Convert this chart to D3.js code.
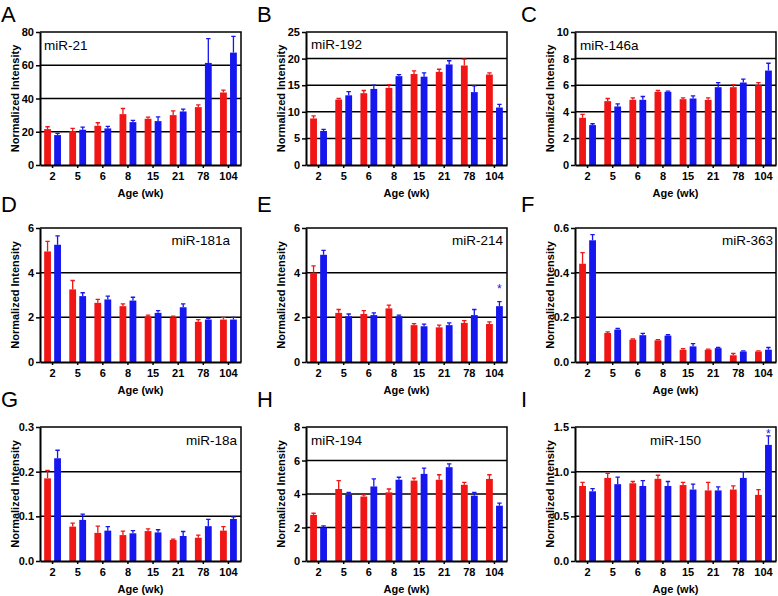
<!DOCTYPE html>
<html>
<head>
<meta charset="utf-8">
<script src="https://cdn.jsdelivr.net/npm/d3@7"></script>
<style>
  html, body { margin: 0; padding: 0; background: #ffffff; }
  svg { display: block; font-family: "Liberation Sans", Arial, sans-serif; }
</style>
</head>
<body>
<script>
// ---------------- DATA ----------------
const ages = ["2", "5", "6", "8", "15", "21", "78", "104"];
const groups = ["red", "blue"];

const panelLetters = ["A", "B", "C", "D", "E", "F", "G", "H", "I"];
const mirNames = ["miR-21", "miR-192", "miR-146a", "miR-181a", "miR-214", "miR-363", "miR-18a", "miR-194", "miR-150"];
const yMaxes = [80, 25, 10, 6, 6, 0.6, 0.3, 8, 1.5];
const yStepsArr = [20, 5, 2, 2, 2, 0.2, 0.1, 2, 0.5];
const yDecimals = [0, 0, 0, 0, 0, 1, 1, 0, 1];

const miR21Red = [21.6, 20.4, 23.6, 30.6, 27.8, 30.0, 34.8, 43.6];
const miR21RedSE = [1.4, 1.6, 1.8, 3.4, 1.0, 2.6, 1.4, 1.4];
const miR21Blue = [18.0, 21.2, 22.0, 25.8, 26.4, 32.2, 61.4, 67.6];
const miR21BlueSE = [1.0, 1.6, 1.2, 1.0, 2.6, 1.4, 14.6, 9.8];

const miR192Red = [8.75, 12.3, 13.5, 14.5, 17.1, 17.5, 18.7, 17.0];
const miR192RedSE = [0.5, 0.2, 0.5, 0.6, 0.6, 0.5, 1.2, 0.3];
const miR192Blue = [6.4, 13.1, 14.3, 16.7, 16.6, 18.9, 13.7, 10.8];
const miR192BlueSE = [0.3, 0.7, 0.7, 0.3, 0.7, 0.7, 1.2, 0.6];

const miR146aRed = [3.55, 4.8, 4.9, 5.5, 4.95, 4.9, 5.85, 6.0];
const miR146aRedSE = [0.25, 0.2, 0.15, 0.1, 0.1, 0.15, 0.2, 0.2];
const miR146aBlue = [3.0, 4.4, 4.9, 5.5, 5.0, 5.85, 6.2, 7.1];
const miR146aBlueSE = [0.1, 0.2, 0.25, 0.05, 0.2, 0.35, 0.25, 0.55];

const miR181aRed = [4.95, 3.25, 2.65, 2.5, 2.05, 2.0, 1.8, 1.9];
const miR181aRedSE = [0.45, 0.4, 0.15, 0.1, 0.05, 0.05, 0.1, 0.1];
const miR181aBlue = [5.25, 2.95, 2.8, 2.75, 2.2, 2.45, 1.9, 1.9];
const miR181aBlueSE = [0.4, 0.15, 0.15, 0.15, 0.1, 0.15, 0.05, 0.1];

const miR214Red = [4.0, 2.2, 2.15, 2.4, 1.65, 1.55, 1.75, 1.7];
const miR214RedSE = [0.3, 0.15, 0.15, 0.15, 0.07, 0.1, 0.1, 0.1];
const miR214Blue = [4.8, 2.05, 2.1, 2.05, 1.6, 1.65, 2.1, 2.5];
const miR214BlueSE = [0.2, 0.1, 0.1, 0.05, 0.1, 0.1, 0.25, 0.2];

const miR363Red = [0.44, 0.13, 0.10, 0.097, 0.055, 0.055, 0.03, 0.047];
const miR363RedSE = [0.05, 0.005, 0.003, 0.003, 0.005, 0.003, 0.008, 0.003];
const miR363Blue = [0.545, 0.145, 0.12, 0.118, 0.07, 0.062, 0.047, 0.055];
const miR363BlueSE = [0.025, 0.005, 0.008, 0.004, 0.012, 0.003, 0.003, 0.01];

const miR18aRed = [0.185, 0.077, 0.063, 0.058, 0.067, 0.047, 0.052, 0.068];
const miR18aRedSE = [0.018, 0.008, 0.015, 0.009, 0.005, 0.002, 0.006, 0.009];
const miR18aBlue = [0.23, 0.092, 0.068, 0.062, 0.064, 0.056, 0.078, 0.094];
const miR18aBlueSE = [0.018, 0.013, 0.009, 0.006, 0.006, 0.01, 0.015, 0.005];

const miR194Red = [2.75, 4.3, 3.85, 4.1, 4.8, 4.85, 4.55, 4.9];
const miR194RedSE = [0.1, 0.5, 0.1, 0.2, 0.15, 0.3, 0.15, 0.25];
const miR194Blue = [2.0, 3.95, 4.45, 4.85, 5.2, 5.6, 3.9, 3.3];
const miR194BlueSE = [0.1, 0.15, 0.45, 0.15, 0.35, 0.2, 0.2, 0.15];

const miR150Red = [0.84, 0.93, 0.87, 0.92, 0.85, 0.79, 0.80, 0.74];
const miR150RedSE = [0.04, 0.05, 0.02, 0.04, 0.03, 0.09, 0.04, 0.06];
const miR150Blue = [0.78, 0.86, 0.84, 0.84, 0.80, 0.79, 0.93, 1.30];
const miR150BlueSE = [0.03, 0.08, 0.06, 0.05, 0.06, 0.04, 0.07, 0.10];

// significance marks: panel index, age, series, y value of the star
const starPanels = [4, 8];
const starAges = ["104", "104"];
const starY = [3.4, 1.46];

const redSeries = [miR21Red, miR192Red, miR146aRed, miR181aRed, miR214Red, miR363Red, miR18aRed, miR194Red, miR150Red];
const redSE = [miR21RedSE, miR192RedSE, miR146aRedSE, miR181aRedSE, miR214RedSE, miR363RedSE, miR18aRedSE, miR194RedSE, miR150RedSE];
const blueSeries = [miR21Blue, miR192Blue, miR146aBlue, miR181aBlue, miR214Blue, miR363Blue, miR18aBlue, miR194Blue, miR150Blue];
const blueSE = [miR21BlueSE, miR192BlueSE, miR146aBlueSE, miR181aBlueSE, miR214BlueSE, miR363BlueSE, miR18aBlueSE, miR194BlueSE, miR150BlueSE];

// ---------------- LAYOUT ----------------
const W = 778, H = 596;
const colLeft = [40, 306, 575];
const colRight = [241, 507, 776];
const rowTop = [32, 228, 427];
const rowBottom = [165, 362, 561];
const letterX = [1, 257, 521];
const letterBase = [22, 211.5, 407];
// label placement per panel: anchor & offset
const labelAnchor = ["start", "start", "start", "end", "end", "end", "end", "start", "middle"];
const labelDX = [4, 5, 5, -11, -4, -3, -4, 5, 0];
const labelDY = [18, 17, 18, 17, 17, 17, 18, 18, 18];

const colors = { red: "#f01616", blue: "#1616ee" };
const FONT = '"Liberation Sans", Arial, sans-serif';

const svg = d3.select("body").append("svg")
  .attr("width", W).attr("height", H)
  .attr("viewBox", `0 0 ${W} ${H}`);

svg.append("rect").attr("width", W).attr("height", H).attr("fill", "#fff");

panelLetters.forEach((letter, i) => {
  const c = i % 3, r = Math.floor(i / 3);
  const L = colLeft[c], R = colRight[c], T = rowTop[r], B = rowBottom[r];
  const g = svg.append("g");

  const x0 = d3.scaleBand().domain(ages).range([L, R]).paddingInner(0).paddingOuter(0);
  const x1 = d3.scaleBand().domain(groups).range([0, x0.bandwidth()])
    .paddingInner(0.32).paddingOuter(0.415);
  const y = d3.scaleLinear().domain([0, yMaxes[i]]).range([B, T]);
  const ticks = d3.range(0, Math.round(yMaxes[i] / yStepsArr[i]) + 1).map(k => +(k * yStepsArr[i]).toFixed(4));

  // gridlines
  g.append("g").selectAll("line")
    .data(ticks.filter(t => t > 0 && t < yMaxes[i]))
    .join("line")
    .attr("x1", L).attr("x2", R)
    .attr("y1", d => y(d)).attr("y2", d => y(d))
    .attr("stroke", "#000").attr("stroke-width", 1.5);

  const rows = ages.map((a, k) => ({
    age: a,
    vals: [
      { s: "red", v: redSeries[i][k], e: redSE[i][k] },
      { s: "blue", v: blueSeries[i][k], e: blueSE[i][k] }
    ]
  }));

  const grp = g.append("g").selectAll("g")
    .data(rows).join("g")
    .attr("transform", d => `translate(${x0(d.age)},0)`);

  // error bars (upper only)
  grp.selectAll("path.err")
    .data(d => d.vals).join("path")
    .attr("class", "err")
    .attr("d", d => {
      const cx = x1(d.s) + x1.bandwidth() / 2;
      const yt = y(d.v + d.e), yb = y(d.v);
      return `M${cx},${yb}V${yt}M${cx - 2.2},${yt}H${cx + 2.2}`;
    })
    .attr("fill", "none")
    .attr("stroke", d => colors[d.s]).attr("stroke-width", 1.3);

  // bars
  grp.selectAll("rect")
    .data(d => d.vals).join("rect")
    .attr("x", d => x1(d.s))
    .attr("width", x1.bandwidth())
    .attr("y", d => y(d.v))
    .attr("height", d => B - y(d.v))
    .attr("fill", d => colors[d.s]);

  // box top & right
  g.append("path")
    .attr("d", `M${L},${T}H${R}V${B}`)
    .attr("fill", "none").attr("stroke", "#000").attr("stroke-width", 1.5);

  // axes
  const yAxis = d3.axisLeft(y).tickValues(ticks).tickSize(4).tickSizeOuter(0).tickPadding(2)
    .tickFormat(d3.format(`.${yDecimals[i]}f`));
  const ya = g.append("g").attr("transform", `translate(${L},0)`).call(yAxis);
  const xAxis = d3.axisBottom(x0).tickSize(3).tickSizeOuter(0).tickPadding(4);
  const xa = g.append("g").attr("transform", `translate(0,${B})`).call(xAxis);
  [ya, xa].forEach(a => {
    a.select(".domain").attr("stroke", "#000").attr("stroke-width", 2);
    a.selectAll(".tick line").attr("stroke", "#000").attr("stroke-width", 1.5);
    a.selectAll(".tick text").attr("fill", "#000")
      .style("font-family", FONT).style("font-weight", "bold").style("font-size", "11px");
  });

  // axis titles
  g.append("text")
    .attr("transform", `translate(${L - 25},${(T + B) / 2}) rotate(-90)`)
    .attr("text-anchor", "middle").attr("dominant-baseline", "central")
    .style("font-family", FONT).style("font-weight", "bold").style("font-size", "11px")
    .text("Normalized Intensity");
  g.append("text")
    .attr("x", (L + R) / 2).attr("y", B + 31.5)
    .attr("text-anchor", "middle")
    .style("font-family", FONT).style("font-weight", "bold").style("font-size", "11px")
    .text("Age (wk)");

  // miR label
  const lx = labelAnchor[i] === "start" ? L : (labelAnchor[i] === "end" ? R : (L + R) / 2);
  g.append("text")
    .attr("x", lx + labelDX[i]).attr("y", T + labelDY[i])
    .attr("text-anchor", labelAnchor[i])
    .style("font-family", FONT).style("font-size", "13.5px")
    .text(mirNames[i]);

  // panel letter
  svg.append("text")
    .attr("x", letterX[c]).attr("y", letterBase[r])
    .style("font-family", FONT).style("font-size", "22px")
    .text(letter);

  // significance stars
  starPanels.forEach((sp, k) => {
    if (sp !== i) return;
    g.append("text")
      .attr("x", x0(starAges[k]) + x1("blue") + x1.bandwidth() / 2)
      .attr("y", y(starY[k]))
      .attr("text-anchor", "middle").attr("dominant-baseline", "central")
      .attr("dy", "0.25em")
      .attr("fill", colors.blue)
      .style("font-family", FONT).style("font-size", "12px")
      .text("*");
  });
});
</script>
</body>
</html>
